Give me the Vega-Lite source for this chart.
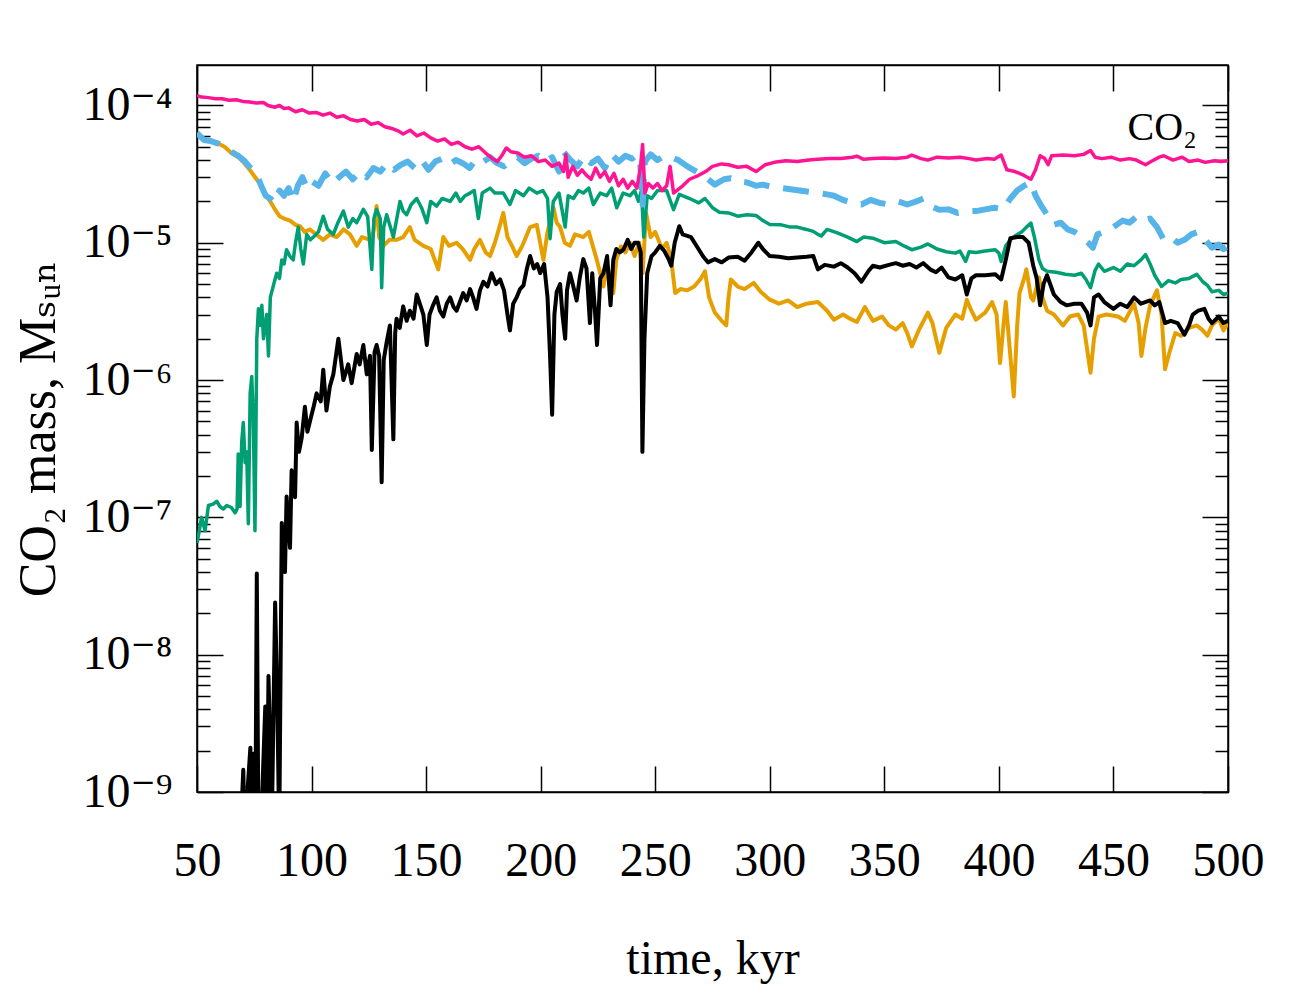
{
  "$schema": "https://vega.github.io/schema/vega-lite/v6.json",
  "autosize": "none",
  "width": 1031,
  "height": 727,
  "padding": {"left": 197, "top": 65, "right": 72, "bottom": 208},
  "config": {
    "view": {"stroke": "#000000", "strokeWidth": 1.5},
    "font": "Liberation Serif",
    "axis": {
      "grid": false,
      "domainColor": "#000000",
      "domainWidth": 1.5,
      "tickColor": "#000000",
      "tickWidth": 1.5,
      "labelColor": "#000000",
      "titleColor": "#000000",
      "labelFont": "Liberation Serif, DejaVu Serif",
      "titleFont": "Liberation Serif, DejaVu Serif",
      "labelFontSize": 48,
      "titleFontSize": 48,
      "titleFontWeight": "normal",
      "labelFlush": false,
      "labelOverlap": false
    }
  },
  "datasets": {
    "orange": [
      {"time": 50, "mass": 6.3e-5}, {"time": 53, "mass": 5.7e-5}, {"time": 56, "mass": 5.5e-5}, {"time": 59, "mass": 5.3e-5},
      {"time": 62, "mass": 5.0e-5}, {"time": 65, "mass": 4.5e-5}, {"time": 68, "mass": 4.2e-5}, {"time": 70, "mass": 3.9e-5},
      {"time": 73, "mass": 3.4e-5}, {"time": 76, "mass": 2.9e-5}, {"time": 78, "mass": 2.6e-5}, {"time": 80, "mass": 2.2e-5},
      {"time": 82, "mass": 2.0e-5}, {"time": 84, "mass": 1.75e-5}, {"time": 86, "mass": 1.56e-5}, {"time": 88, "mass": 1.5e-5},
      {"time": 90.6, "mass": 1.45e-5}, {"time": 93, "mass": 1.35e-5}, {"time": 95, "mass": 1.32e-5}, {"time": 97, "mass": 1.2e-5},
      {"time": 99.3, "mass": 1.25e-5}, {"time": 102, "mass": 1.15e-5}, {"time": 105.1, "mass": 1.05e-5}, {"time": 108, "mass": 1.15e-5},
      {"time": 111, "mass": 1.1e-5}, {"time": 114, "mass": 1.25e-5}, {"time": 116.8, "mass": 1.15e-5}, {"time": 119.7, "mass": 9.5e-6},
      {"time": 122, "mass": 1.1e-5}, {"time": 125.6, "mass": 1.05e-5}, {"time": 127, "mass": 1.2e-5}, {"time": 128.4, "mass": 1.85e-5},
      {"time": 129.5, "mass": 1.1e-5}, {"time": 131.3, "mass": 9.5e-6}, {"time": 134, "mass": 1.05e-5}, {"time": 137.1, "mass": 1.05e-5},
      {"time": 140, "mass": 1.1e-5}, {"time": 142.9, "mass": 1.3e-5}, {"time": 145, "mass": 1.05e-5}, {"time": 148.8, "mass": 9.5e-6},
      {"time": 152, "mass": 9.0e-6}, {"time": 155.3, "mass": 6.4e-6}, {"time": 157.5, "mass": 1.1e-5}, {"time": 160, "mass": 9.5e-6},
      {"time": 163.3, "mass": 1.0e-5}, {"time": 166, "mass": 9.0e-6}, {"time": 169.2, "mass": 7.5e-6}, {"time": 171, "mass": 9.0e-6},
      {"time": 173.5, "mass": 1.05e-5}, {"time": 176, "mass": 8.5e-6}, {"time": 177.9, "mass": 8.0e-6}, {"time": 180, "mass": 1.0e-5},
      {"time": 182, "mass": 1.3e-5}, {"time": 183.7, "mass": 1.65e-5}, {"time": 185.5, "mass": 1.1e-5}, {"time": 187.5, "mass": 9.5e-6},
      {"time": 189.5, "mass": 8.0e-6}, {"time": 192, "mass": 9.5e-6}, {"time": 195.4, "mass": 1.3e-5}, {"time": 198.3, "mass": 1.35e-5},
      {"time": 201.2, "mass": 7.5e-6}, {"time": 203, "mass": 1.2e-5}, {"time": 205.6, "mass": 1.8e-5}, {"time": 207, "mass": 1.4e-5},
      {"time": 208.5, "mass": 1.3e-5}, {"time": 210.5, "mass": 1.0e-5}, {"time": 212.8, "mass": 9.5e-6}, {"time": 215, "mass": 1.15e-5},
      {"time": 218.6, "mass": 1.1e-5}, {"time": 221, "mass": 1.2e-5}, {"time": 224.5, "mass": 7.5e-6}, {"time": 226, "mass": 6.0e-6},
      {"time": 227.4, "mass": 4.8e-6}, {"time": 229, "mass": 7.0e-6}, {"time": 231.7, "mass": 4.3e-6}, {"time": 233, "mass": 7.5e-6},
      {"time": 235, "mass": 9.4e-6}, {"time": 237, "mass": 8.5e-6}, {"time": 239, "mass": 1.0e-5}, {"time": 241, "mass": 8.0e-6},
      {"time": 243, "mass": 1.0e-5}, {"time": 244.5, "mass": 6.0e-6}, {"time": 246, "mass": 1.65e-5}, {"time": 248, "mass": 1.1e-5},
      {"time": 250, "mass": 1.2e-5}, {"time": 253, "mass": 9.0e-6}, {"time": 255, "mass": 1.0e-5}, {"time": 257, "mass": 7.5e-6},
      {"time": 258.7, "mass": 4.3e-6}, {"time": 261, "mass": 4.6e-6}, {"time": 264, "mass": 4.5e-6}, {"time": 267, "mass": 4.8e-6},
      {"time": 270, "mass": 5.5e-6}, {"time": 271.7, "mass": 6.2e-6}, {"time": 273.5, "mass": 4.0e-6}, {"time": 276, "mass": 3.1e-6},
      {"time": 279, "mass": 2.7e-6}, {"time": 281, "mass": 2.5e-6}, {"time": 282, "mass": 4.0e-6}, {"time": 283, "mass": 5.4e-6},
      {"time": 286, "mass": 4.8e-6}, {"time": 289, "mass": 4.6e-6}, {"time": 293, "mass": 5.1e-6}, {"time": 296, "mass": 4.4e-6},
      {"time": 300, "mass": 3.85e-6}, {"time": 304, "mass": 3.6e-6}, {"time": 308, "mass": 3.8e-6}, {"time": 312, "mass": 3.4e-6},
      {"time": 316, "mass": 3.6e-6}, {"time": 321, "mass": 3.7e-6}, {"time": 325, "mass": 3.2e-6}, {"time": 328, "mass": 2.75e-6},
      {"time": 332, "mass": 3.0e-6}, {"time": 335, "mass": 2.8e-6}, {"time": 338, "mass": 2.65e-6}, {"time": 341.5, "mass": 3.4e-6},
      {"time": 345, "mass": 2.7e-6}, {"time": 349, "mass": 2.9e-6}, {"time": 352, "mass": 2.5e-6}, {"time": 355, "mass": 2.33e-6},
      {"time": 358, "mass": 2.6e-6}, {"time": 360, "mass": 2.2e-6}, {"time": 362, "mass": 1.76e-6}, {"time": 365, "mass": 2.3e-6},
      {"time": 369, "mass": 3.1e-6}, {"time": 371, "mass": 2.6e-6}, {"time": 374, "mass": 1.58e-6}, {"time": 377, "mass": 2.4e-6},
      {"time": 381, "mass": 3.0e-6}, {"time": 384, "mass": 2.8e-6}, {"time": 386, "mass": 3.85e-6}, {"time": 388, "mass": 3.2e-6},
      {"time": 390, "mass": 2.75e-6}, {"time": 394, "mass": 3.1e-6}, {"time": 397, "mass": 3.7e-6}, {"time": 399, "mass": 3.0e-6},
      {"time": 400.5, "mass": 1.33e-6}, {"time": 402, "mass": 2.5e-6}, {"time": 403, "mass": 3.7e-6}, {"time": 405, "mass": 1.5e-6},
      {"time": 406.5, "mass": 7.6e-7}, {"time": 408, "mass": 2.5e-6}, {"time": 409, "mass": 4.3e-6}, {"time": 411, "mass": 5.5e-6},
      {"time": 412, "mass": 6.4e-6}, {"time": 414, "mass": 4.0e-6}, {"time": 415, "mass": 3.8e-6}, {"time": 417.5, "mass": 5.6e-6},
      {"time": 419, "mass": 4.0e-6}, {"time": 421, "mass": 3.2e-6}, {"time": 424, "mass": 3.0e-6}, {"time": 428, "mass": 2.5e-6},
      {"time": 431, "mass": 2.9e-6}, {"time": 434.6, "mass": 3.0e-6}, {"time": 437, "mass": 2.5e-6}, {"time": 440, "mass": 1.13e-6},
      {"time": 441.5, "mass": 2.0e-6}, {"time": 443.5, "mass": 2.9e-6}, {"time": 447, "mass": 3.0e-6}, {"time": 452, "mass": 2.9e-6},
      {"time": 455, "mass": 2.7e-6}, {"time": 459, "mass": 3.6e-6}, {"time": 461, "mass": 2.6e-6}, {"time": 462.2, "mass": 1.5e-6},
      {"time": 464, "mass": 2.4e-6}, {"time": 466, "mass": 3.5e-6}, {"time": 469, "mass": 4.5e-6}, {"time": 471, "mass": 3.0e-6},
      {"time": 472.5, "mass": 1.2e-6}, {"time": 474.5, "mass": 1.6e-6}, {"time": 477, "mass": 2.2e-6}, {"time": 479.5, "mass": 2.1e-6},
      {"time": 483, "mass": 2.4e-6}, {"time": 486.4, "mass": 2.5e-6}, {"time": 489, "mass": 2.3e-6}, {"time": 491, "mass": 2.1e-6},
      {"time": 493, "mass": 2.5e-6}, {"time": 496, "mass": 2.8e-6}, {"time": 498, "mass": 2.3e-6}, {"time": 500, "mass": 2.6e-6}
    ],
    "green": [
      {"time": 50, "mass": 6.5e-8}, {"time": 51, "mass": 8e-8}, {"time": 52, "mass": 1.0e-7}, {"time": 53.5, "mass": 8e-8},
      {"time": 55, "mass": 1.22e-7}, {"time": 57, "mass": 1.25e-7}, {"time": 58.6, "mass": 1.31e-7}, {"time": 60, "mass": 1.2e-7},
      {"time": 61.5, "mass": 1.15e-7}, {"time": 63, "mass": 1.22e-7}, {"time": 65, "mass": 1.18e-7}, {"time": 66.6, "mass": 1.08e-7},
      {"time": 67.5, "mass": 1.15e-7}, {"time": 68, "mass": 2.9e-7}, {"time": 68.8, "mass": 1.2e-7}, {"time": 69.5, "mass": 3.5e-7},
      {"time": 70.2, "mass": 4.9e-7}, {"time": 71, "mass": 2.5e-7}, {"time": 71.7, "mass": 3.0e-7}, {"time": 72.4, "mass": 9e-8},
      {"time": 73.2, "mass": 8e-7}, {"time": 73.9, "mass": 1.06e-6}, {"time": 74.6, "mass": 5e-7}, {"time": 75.3, "mass": 8e-8},
      {"time": 76.1, "mass": 2.0e-6}, {"time": 76.8, "mass": 3.3e-6}, {"time": 77.5, "mass": 2.5e-6}, {"time": 78.3, "mass": 3.5e-6},
      {"time": 79, "mass": 2.0e-6}, {"time": 80.4, "mass": 3.0e-6}, {"time": 81.2, "mass": 1.5e-6}, {"time": 82, "mass": 4.0e-6},
      {"time": 83.5, "mass": 5.0e-6}, {"time": 84.8, "mass": 6.0e-6}, {"time": 86, "mass": 5.5e-6}, {"time": 87, "mass": 7.5e-6},
      {"time": 88, "mass": 7.0e-6}, {"time": 89.1, "mass": 8.9e-6}, {"time": 90.5, "mass": 8.0e-6}, {"time": 92, "mass": 7.5e-6},
      {"time": 93, "mass": 1.0e-5}, {"time": 94.2, "mass": 1.3e-5}, {"time": 95.3, "mass": 9.0e-6}, {"time": 96.4, "mass": 7.0e-6},
      {"time": 97.9, "mass": 1.15e-5}, {"time": 99.5, "mass": 1.05e-5}, {"time": 100.8, "mass": 1.1e-5}, {"time": 103, "mass": 1.2e-5},
      {"time": 105.1, "mass": 1.56e-5}, {"time": 107, "mass": 1.25e-5}, {"time": 109.5, "mass": 1.15e-5}, {"time": 111.5, "mass": 1.4e-5},
      {"time": 113.9, "mass": 1.7e-5}, {"time": 116, "mass": 1.3e-5}, {"time": 118, "mass": 1.5e-5}, {"time": 119.7, "mass": 1.4e-5},
      {"time": 122.6, "mass": 1.75e-5}, {"time": 124.5, "mass": 1.55e-5}, {"time": 126.3, "mass": 6.4e-6}, {"time": 127.2, "mass": 1.5e-5},
      {"time": 128.4, "mass": 1.75e-5}, {"time": 130, "mass": 1.5e-5}, {"time": 130.6, "mass": 4.7e-6}, {"time": 131.5, "mass": 1.3e-5},
      {"time": 132.8, "mass": 1.6e-5}, {"time": 135.7, "mass": 1.1e-5}, {"time": 138.6, "mass": 2.0e-5}, {"time": 140, "mass": 1.7e-5},
      {"time": 141.5, "mass": 1.6e-5}, {"time": 143.5, "mass": 1.9e-5}, {"time": 145.9, "mass": 2.1e-5}, {"time": 148, "mass": 1.8e-5},
      {"time": 150.3, "mass": 1.4e-5}, {"time": 152, "mass": 2.0e-5}, {"time": 154.6, "mass": 1.85e-5}, {"time": 157, "mass": 2.1e-5},
      {"time": 160.5, "mass": 2.0e-5}, {"time": 163, "mass": 2.3e-5}, {"time": 164.9, "mass": 2.0e-5}, {"time": 167, "mass": 2.2e-5},
      {"time": 169.2, "mass": 2.3e-5}, {"time": 171, "mass": 2.4e-5}, {"time": 172.8, "mass": 1.5e-5}, {"time": 174.5, "mass": 2.3e-5},
      {"time": 177.9, "mass": 2.5e-5}, {"time": 180, "mass": 2.3e-5}, {"time": 183.7, "mass": 2.3e-5}, {"time": 186.6, "mass": 1.9e-5},
      {"time": 189, "mass": 2.4e-5}, {"time": 192.5, "mass": 2.2e-5}, {"time": 195, "mass": 2.5e-5}, {"time": 198.3, "mass": 2.3e-5},
      {"time": 201, "mass": 2.4e-5}, {"time": 203, "mass": 2.1e-5}, {"time": 204.1, "mass": 1.07e-5}, {"time": 205.5, "mass": 2.0e-5},
      {"time": 208, "mass": 2.3e-5}, {"time": 210.7, "mass": 1.3e-5}, {"time": 212, "mass": 2.2e-5}, {"time": 214.3, "mass": 2.1e-5},
      {"time": 216.5, "mass": 2.4e-5}, {"time": 218.6, "mass": 2.3e-5}, {"time": 221, "mass": 2.5e-5}, {"time": 223, "mass": 1.9e-5},
      {"time": 226, "mass": 2.3e-5}, {"time": 228.8, "mass": 2.2e-5}, {"time": 231, "mass": 2.5e-5}, {"time": 233.2, "mass": 1.8e-5},
      {"time": 236, "mass": 2.3e-5}, {"time": 239, "mass": 2.2e-5}, {"time": 241, "mass": 2.4e-5}, {"time": 242.7, "mass": 2.0e-5},
      {"time": 244, "mass": 2.4e-5}, {"time": 245, "mass": 1.1e-5}, {"time": 246.5, "mass": 2.2e-5}, {"time": 248.4, "mass": 2.1e-5},
      {"time": 251, "mass": 2.4e-5}, {"time": 255, "mass": 2.4e-5}, {"time": 258, "mass": 1.74e-5}, {"time": 260.5, "mass": 2.25e-5},
      {"time": 265, "mass": 2.1e-5}, {"time": 269, "mass": 1.95e-5}, {"time": 271.7, "mass": 2.1e-5}, {"time": 275, "mass": 1.8e-5},
      {"time": 278, "mass": 1.67e-5}, {"time": 282, "mass": 1.65e-5}, {"time": 286, "mass": 1.56e-5}, {"time": 290, "mass": 1.6e-5},
      {"time": 294, "mass": 1.58e-5}, {"time": 297, "mass": 1.45e-5}, {"time": 300, "mass": 1.36e-5}, {"time": 305, "mass": 1.35e-5},
      {"time": 309, "mass": 1.3e-5}, {"time": 312, "mass": 1.3e-5}, {"time": 316, "mass": 1.25e-5}, {"time": 319, "mass": 1.21e-5},
      {"time": 321, "mass": 1.15e-5}, {"time": 322.5, "mass": 1.12e-5}, {"time": 325, "mass": 1.25e-5}, {"time": 329.5, "mass": 1.18e-5},
      {"time": 334, "mass": 1.1e-5}, {"time": 338, "mass": 1.02e-5}, {"time": 341, "mass": 1.1e-5}, {"time": 345, "mass": 1.08e-5},
      {"time": 350, "mass": 1.0e-5}, {"time": 355, "mass": 1.02e-5}, {"time": 359, "mass": 9.4e-6}, {"time": 362, "mass": 8.9e-6},
      {"time": 366, "mass": 9.3e-6}, {"time": 369, "mass": 9.8e-6}, {"time": 373, "mass": 9.0e-6}, {"time": 377, "mass": 8.6e-6},
      {"time": 381, "mass": 8.4e-6}, {"time": 383, "mass": 8.7e-6}, {"time": 385.5, "mass": 7.3e-6}, {"time": 387, "mass": 8.6e-6},
      {"time": 390, "mass": 8.5e-6}, {"time": 394, "mass": 8.7e-6}, {"time": 398.4, "mass": 8.9e-6}, {"time": 400, "mass": 8.4e-6},
      {"time": 401, "mass": 7.3e-6}, {"time": 403, "mass": 9.5e-6}, {"time": 405, "mass": 1.05e-5}, {"time": 407, "mass": 1.12e-5},
      {"time": 410, "mass": 1.2e-5}, {"time": 412, "mass": 1.3e-5}, {"time": 414, "mass": 1.39e-5}, {"time": 415.5, "mass": 1.1e-5},
      {"time": 417.5, "mass": 7.5e-6}, {"time": 419, "mass": 6.5e-6}, {"time": 421, "mass": 6.2e-6}, {"time": 425, "mass": 6.1e-6},
      {"time": 429, "mass": 5.9e-6}, {"time": 433, "mass": 5.8e-6}, {"time": 436, "mass": 6.0e-6}, {"time": 438, "mass": 5.4e-6},
      {"time": 440, "mass": 4.7e-6}, {"time": 442, "mass": 6.3e-6}, {"time": 443.5, "mass": 7.0e-6}, {"time": 446, "mass": 6.2e-6},
      {"time": 450, "mass": 6.6e-6}, {"time": 453, "mass": 6.2e-6}, {"time": 456, "mass": 7.0e-6}, {"time": 459, "mass": 6.8e-6},
      {"time": 462, "mass": 7.5e-6}, {"time": 464, "mass": 8.2e-6}, {"time": 466, "mass": 7.0e-6}, {"time": 468, "mass": 5.8e-6},
      {"time": 471, "mass": 4.8e-6}, {"time": 474, "mass": 5.3e-6}, {"time": 477, "mass": 5.1e-6}, {"time": 479.5, "mass": 5.4e-6},
      {"time": 483, "mass": 5.5e-6}, {"time": 486.4, "mass": 5.9e-6}, {"time": 489, "mass": 5.2e-6}, {"time": 491, "mass": 4.9e-6},
      {"time": 493, "mass": 4.4e-6}, {"time": 496, "mass": 4.5e-6}, {"time": 498, "mass": 4.2e-6}, {"time": 500, "mass": 4.3e-6}
    ],
    "black": [
      {"time": 69, "mass": 5e-10}, {"time": 70.2, "mass": 1.45e-9}, {"time": 70.8, "mass": 5e-10}, {"time": 73.3, "mass": 2.1e-9},
      {"time": 73.9, "mass": 5e-10}, {"time": 74.6, "mass": 1.9e-9}, {"time": 75.5, "mass": 6e-10}, {"time": 76.1, "mass": 3.9e-8},
      {"time": 76.8, "mass": 5e-10}, {"time": 78.5, "mass": 1e-9}, {"time": 79.8, "mass": 4.2e-9}, {"time": 80.5, "mass": 5e-10},
      {"time": 81.2, "mass": 7e-9}, {"time": 82, "mass": 2e-9}, {"time": 82.6, "mass": 5e-10}, {"time": 84.1, "mass": 2.4e-8},
      {"time": 85, "mass": 5e-9}, {"time": 85.9, "mass": 5e-10}, {"time": 87, "mass": 9.1e-8}, {"time": 88.4, "mass": 4e-8},
      {"time": 89.1, "mass": 1.42e-7}, {"time": 90.6, "mass": 6e-8}, {"time": 91.3, "mass": 2.2e-7}, {"time": 92.8, "mass": 1.4e-7},
      {"time": 93.5, "mass": 4.9e-7}, {"time": 94.5, "mass": 3.0e-7}, {"time": 95.7, "mass": 3.8e-7}, {"time": 97.1, "mass": 6.4e-7},
      {"time": 98.2, "mass": 4.2e-7}, {"time": 99.3, "mass": 5.0e-7}, {"time": 101, "mass": 6.5e-7}, {"time": 102.2, "mass": 8.0e-7},
      {"time": 104, "mass": 7.0e-7}, {"time": 105.1, "mass": 1.19e-6}, {"time": 106.5, "mass": 6.0e-7}, {"time": 108, "mass": 9.0e-7},
      {"time": 109.5, "mass": 1.1e-6}, {"time": 111.7, "mass": 2.0e-6}, {"time": 113.9, "mass": 1.0e-6}, {"time": 116, "mass": 1.3e-6},
      {"time": 117.5, "mass": 9.5e-7}, {"time": 119.7, "mass": 1.55e-6}, {"time": 121, "mass": 1.3e-6}, {"time": 122.6, "mass": 1.8e-6},
      {"time": 124.1, "mass": 1.1e-6}, {"time": 125.5, "mass": 1.5e-6}, {"time": 126.3, "mass": 3.1e-7}, {"time": 127.5, "mass": 1.6e-6},
      {"time": 128.4, "mass": 1.8e-6}, {"time": 129.5, "mass": 1.5e-6}, {"time": 130.6, "mass": 1.8e-7}, {"time": 131.5, "mass": 1.4e-6},
      {"time": 132.8, "mass": 1.9e-6}, {"time": 134.2, "mass": 2.5e-6}, {"time": 135.7, "mass": 3.7e-7}, {"time": 136.5, "mass": 2.2e-6},
      {"time": 137.1, "mass": 2.8e-6}, {"time": 138.5, "mass": 2.4e-6}, {"time": 140, "mass": 3.44e-6}, {"time": 141.5, "mass": 2.7e-6},
      {"time": 142.9, "mass": 3.2e-6}, {"time": 144.5, "mass": 2.8e-6}, {"time": 145.9, "mass": 4.2e-6}, {"time": 147.5, "mass": 3.5e-6},
      {"time": 148.8, "mass": 3.0e-6}, {"time": 150.3, "mass": 1.8e-6}, {"time": 151.5, "mass": 3.0e-6}, {"time": 153, "mass": 3.5e-6},
      {"time": 154.6, "mass": 4.0e-6}, {"time": 156, "mass": 3.2e-6}, {"time": 157.5, "mass": 2.9e-6}, {"time": 159, "mass": 3.6e-6},
      {"time": 160.5, "mass": 4.0e-6}, {"time": 162, "mass": 3.4e-6}, {"time": 163.3, "mass": 3.2e-6}, {"time": 166.2, "mass": 4.3e-6},
      {"time": 167.7, "mass": 3.8e-6}, {"time": 169.2, "mass": 4.6e-6}, {"time": 170.5, "mass": 4.0e-6}, {"time": 172, "mass": 3.3e-6},
      {"time": 173.5, "mass": 4.5e-6}, {"time": 175, "mass": 5.2e-6}, {"time": 176.8, "mass": 4.8e-6}, {"time": 178.6, "mass": 6.0e-6},
      {"time": 180.5, "mass": 5.0e-6}, {"time": 182.3, "mass": 5.4e-6}, {"time": 184, "mass": 4.5e-6}, {"time": 185.5, "mass": 3.0e-6},
      {"time": 186.6, "mass": 2.3e-6}, {"time": 188, "mass": 3.6e-6}, {"time": 189.5, "mass": 4.0e-6}, {"time": 191, "mass": 4.6e-6},
      {"time": 192.5, "mass": 4.9e-6}, {"time": 194, "mass": 6.5e-6}, {"time": 195.4, "mass": 8.0e-6}, {"time": 197, "mass": 6.5e-6},
      {"time": 198.5, "mass": 7.0e-6}, {"time": 199.8, "mass": 6.0e-6}, {"time": 201.5, "mass": 7.0e-6}, {"time": 203, "mass": 4.0e-6},
      {"time": 204.1, "mass": 1.5e-6}, {"time": 205, "mass": 5.6e-7}, {"time": 206, "mass": 3.0e-6}, {"time": 207, "mass": 4.4e-6},
      {"time": 208.5, "mass": 5.0e-6}, {"time": 209.5, "mass": 3.0e-6}, {"time": 210.7, "mass": 2.0e-6}, {"time": 211.5, "mass": 4.5e-6},
      {"time": 212.8, "mass": 6.0e-6}, {"time": 214, "mass": 5.0e-6}, {"time": 215.7, "mass": 3.8e-6}, {"time": 217, "mass": 5.5e-6},
      {"time": 218.6, "mass": 7.6e-6}, {"time": 220, "mass": 6.5e-6}, {"time": 221.5, "mass": 2.6e-6}, {"time": 222.5, "mass": 6.0e-6},
      {"time": 223.7, "mass": 3.2e-6}, {"time": 224.6, "mass": 1.8e-6}, {"time": 226, "mass": 5.5e-6}, {"time": 227.4, "mass": 6.0e-6},
      {"time": 229, "mass": 8.0e-6}, {"time": 230.5, "mass": 3.5e-6}, {"time": 231.7, "mass": 7.5e-6}, {"time": 233, "mass": 9.0e-6},
      {"time": 234.5, "mass": 8.5e-6}, {"time": 236.1, "mass": 8.9e-6}, {"time": 238, "mass": 1.05e-5}, {"time": 239.5, "mass": 9.0e-6},
      {"time": 241, "mass": 1.0e-5}, {"time": 242.5, "mass": 1.0e-5}, {"time": 243.7, "mass": 8.5e-6}, {"time": 244.4, "mass": 3.0e-7},
      {"time": 245.3, "mass": 2.0e-6}, {"time": 246.5, "mass": 6.0e-6}, {"time": 248.4, "mass": 8.0e-6}, {"time": 250, "mass": 8.5e-6},
      {"time": 252, "mass": 9.5e-6}, {"time": 254, "mass": 8.7e-6}, {"time": 256, "mass": 7.5e-6}, {"time": 257, "mass": 6.8e-6},
      {"time": 258.5, "mass": 1.0e-5}, {"time": 260.5, "mass": 1.32e-5}, {"time": 262, "mass": 1.15e-5}, {"time": 265.6, "mass": 1.1e-5},
      {"time": 268, "mass": 9.5e-6}, {"time": 271, "mass": 7.9e-6}, {"time": 273, "mass": 7.2e-6}, {"time": 276, "mass": 7.6e-6},
      {"time": 279, "mass": 7.2e-6}, {"time": 282, "mass": 7.8e-6}, {"time": 286, "mass": 7.9e-6}, {"time": 289, "mass": 7.4e-6},
      {"time": 292, "mass": 8.5e-6}, {"time": 295, "mass": 1.0e-5}, {"time": 297, "mass": 9.0e-6}, {"time": 300, "mass": 8.0e-6},
      {"time": 304, "mass": 7.9e-6}, {"time": 308, "mass": 7.7e-6}, {"time": 312, "mass": 7.8e-6}, {"time": 316, "mass": 7.9e-6},
      {"time": 319, "mass": 8.0e-6}, {"time": 321, "mass": 6.4e-6}, {"time": 324, "mass": 6.9e-6}, {"time": 328, "mass": 6.7e-6},
      {"time": 331, "mass": 7.1e-6}, {"time": 334, "mass": 6.6e-6}, {"time": 337, "mass": 6.0e-6}, {"time": 340, "mass": 5.2e-6},
      {"time": 343, "mass": 6.2e-6}, {"time": 345, "mass": 6.8e-6}, {"time": 348, "mass": 6.6e-6}, {"time": 352, "mass": 6.9e-6},
      {"time": 355, "mass": 7.1e-6}, {"time": 358, "mass": 6.8e-6}, {"time": 361, "mass": 7.0e-6}, {"time": 364, "mass": 6.6e-6},
      {"time": 367, "mass": 7.1e-6}, {"time": 370, "mass": 6.4e-6}, {"time": 372.5, "mass": 6.1e-6}, {"time": 375, "mass": 6.6e-6},
      {"time": 378, "mass": 5.6e-6}, {"time": 381, "mass": 5.4e-6}, {"time": 384, "mass": 5.8e-6}, {"time": 386, "mass": 4.2e-6},
      {"time": 388, "mass": 5.5e-6}, {"time": 390, "mass": 5.8e-6}, {"time": 394, "mass": 5.8e-6}, {"time": 398.4, "mass": 5.9e-6},
      {"time": 401, "mass": 5.4e-6}, {"time": 403, "mass": 7.5e-6}, {"time": 405, "mass": 1.08e-5}, {"time": 408, "mass": 1.1e-5},
      {"time": 410.5, "mass": 1.1e-5}, {"time": 413, "mass": 1.0e-5}, {"time": 415, "mass": 6.8e-6}, {"time": 416.5, "mass": 5.5e-6},
      {"time": 418, "mass": 3.5e-6}, {"time": 419.5, "mass": 5.0e-6}, {"time": 421, "mass": 5.8e-6}, {"time": 424, "mass": 4.2e-6},
      {"time": 427, "mass": 3.7e-6}, {"time": 429.5, "mass": 3.5e-6}, {"time": 433, "mass": 3.6e-6}, {"time": 436, "mass": 3.6e-6},
      {"time": 438.5, "mass": 3.1e-6}, {"time": 440, "mass": 2.5e-6}, {"time": 441.5, "mass": 4.0e-6}, {"time": 443.5, "mass": 4.2e-6},
      {"time": 446, "mass": 3.7e-6}, {"time": 450, "mass": 3.3e-6}, {"time": 453, "mass": 3.6e-6}, {"time": 456, "mass": 3.4e-6},
      {"time": 459, "mass": 4.0e-6}, {"time": 462, "mass": 3.6e-6}, {"time": 466, "mass": 3.8e-6}, {"time": 468, "mass": 3.5e-6},
      {"time": 470, "mass": 3.7e-6}, {"time": 472.5, "mass": 2.6e-6}, {"time": 475, "mass": 2.7e-6}, {"time": 478, "mass": 2.6e-6},
      {"time": 481, "mass": 2.14e-6}, {"time": 483, "mass": 2.5e-6}, {"time": 484.6, "mass": 3.0e-6}, {"time": 487, "mass": 3.2e-6},
      {"time": 489.7, "mass": 3.3e-6}, {"time": 491.5, "mass": 2.8e-6}, {"time": 493, "mass": 2.6e-6}, {"time": 496, "mass": 2.9e-6},
      {"time": 498, "mass": 2.6e-6}, {"time": 500, "mass": 2.7e-6}
    ],
    "blue": [
      {"time": 50, "mass": 6.3e-5}, {"time": 53, "mass": 5.6e-5}, {"time": 56, "mass": 5.5e-5}, {"time": 59, "mass": 5.3e-5},
      {"time": 62, "mass": 5.0e-5}, {"time": 65, "mass": 4.6e-5}, {"time": 68, "mass": 4.3e-5}, {"time": 71, "mass": 3.9e-5},
      {"time": 74, "mass": 3.4e-5}, {"time": 76, "mass": 3.2e-5}, {"time": 78, "mass": 2.6e-5}, {"time": 80, "mass": 2.2e-5},
      {"time": 82, "mass": 2.1e-5}, {"time": 84, "mass": 1.95e-5}, {"time": 86, "mass": 2.4e-5}, {"time": 88, "mass": 2.2e-5},
      {"time": 90, "mass": 2.5e-5}, {"time": 92, "mass": 2.0e-5}, {"time": 94, "mass": 2.6e-5}, {"time": 96, "mass": 3.0e-5},
      {"time": 98, "mass": 2.5e-5}, {"time": 100, "mass": 2.8e-5}, {"time": 103, "mass": 2.6e-5}, {"time": 106, "mass": 3.2e-5},
      {"time": 109, "mass": 2.7e-5}, {"time": 112, "mass": 3.0e-5}, {"time": 115, "mass": 3.3e-5}, {"time": 118, "mass": 2.9e-5},
      {"time": 121, "mass": 3.3e-5}, {"time": 124, "mass": 3.0e-5}, {"time": 127, "mass": 3.5e-5}, {"time": 130, "mass": 3.3e-5},
      {"time": 133, "mass": 3.8e-5}, {"time": 136, "mass": 3.4e-5}, {"time": 139, "mass": 3.7e-5}, {"time": 142, "mass": 3.9e-5},
      {"time": 145, "mass": 3.5e-5}, {"time": 148, "mass": 4.0e-5}, {"time": 151, "mass": 3.4e-5}, {"time": 154, "mass": 3.9e-5},
      {"time": 157, "mass": 4.1e-5}, {"time": 160, "mass": 3.7e-5}, {"time": 163, "mass": 4.0e-5}, {"time": 166, "mass": 3.8e-5},
      {"time": 169, "mass": 3.5e-5}, {"time": 172, "mass": 4.1e-5}, {"time": 175, "mass": 3.9e-5}, {"time": 178, "mass": 4.2e-5},
      {"time": 181, "mass": 3.8e-5}, {"time": 184, "mass": 3.6e-5}, {"time": 187, "mass": 4.0e-5}, {"time": 190, "mass": 4.2e-5},
      {"time": 193, "mass": 3.8e-5}, {"time": 196, "mass": 4.1e-5}, {"time": 199, "mass": 4.3e-5}, {"time": 202, "mass": 3.9e-5},
      {"time": 205, "mass": 4.2e-5}, {"time": 208, "mass": 3.3e-5}, {"time": 210, "mass": 4.6e-5}, {"time": 213, "mass": 4.0e-5},
      {"time": 216, "mass": 3.6e-5}, {"time": 219, "mass": 4.3e-5}, {"time": 222, "mass": 3.8e-5}, {"time": 225, "mass": 4.1e-5},
      {"time": 228, "mass": 3.5e-5}, {"time": 231, "mass": 4.4e-5}, {"time": 234, "mass": 3.9e-5}, {"time": 237, "mass": 4.3e-5},
      {"time": 240, "mass": 4.1e-5}, {"time": 242, "mass": 4.4e-5}, {"time": 243.5, "mass": 3.7e-5}, {"time": 244.5, "mass": 1.9e-5},
      {"time": 245.5, "mass": 3.9e-5}, {"time": 248, "mass": 4.4e-5}, {"time": 251, "mass": 4.0e-5}, {"time": 254, "mass": 4.3e-5},
      {"time": 257, "mass": 4.2e-5}, {"time": 260, "mass": 4.0e-5}, {"time": 264, "mass": 3.6e-5}, {"time": 268, "mass": 3.3e-5},
      {"time": 272, "mass": 3.0e-5}, {"time": 276, "mass": 2.65e-5}, {"time": 280, "mass": 2.9e-5}, {"time": 283, "mass": 2.95e-5},
      {"time": 286, "mass": 2.8e-5}, {"time": 290, "mass": 2.75e-5}, {"time": 294, "mass": 2.6e-5}, {"time": 297, "mass": 2.65e-5},
      {"time": 301, "mass": 2.55e-5}, {"time": 305, "mass": 2.5e-5}, {"time": 309, "mass": 2.45e-5}, {"time": 313, "mass": 2.4e-5},
      {"time": 317, "mass": 2.35e-5}, {"time": 321, "mass": 2.3e-5}, {"time": 325, "mass": 2.25e-5}, {"time": 328, "mass": 2.2e-5},
      {"time": 332, "mass": 2.05e-5}, {"time": 336, "mass": 1.95e-5}, {"time": 340, "mass": 1.9e-5}, {"time": 344, "mass": 2.05e-5},
      {"time": 348, "mass": 1.95e-5}, {"time": 352, "mass": 1.9e-5}, {"time": 356, "mass": 2.0e-5}, {"time": 360, "mass": 1.9e-5},
      {"time": 364, "mass": 2.0e-5}, {"time": 367, "mass": 2.1e-5}, {"time": 370, "mass": 1.85e-5}, {"time": 374, "mass": 1.74e-5},
      {"time": 378, "mass": 1.75e-5}, {"time": 382, "mass": 1.65e-5}, {"time": 386, "mass": 1.7e-5}, {"time": 390, "mass": 1.7e-5},
      {"time": 394, "mass": 1.75e-5}, {"time": 398, "mass": 1.8e-5}, {"time": 402, "mass": 1.75e-5}, {"time": 405, "mass": 2.1e-5},
      {"time": 408, "mass": 2.4e-5}, {"time": 411, "mass": 2.6e-5}, {"time": 414, "mass": 2.75e-5}, {"time": 416, "mass": 2.2e-5},
      {"time": 419, "mass": 1.8e-5}, {"time": 421, "mass": 1.6e-5}, {"time": 424, "mass": 1.35e-5}, {"time": 427, "mass": 1.4e-5},
      {"time": 430, "mass": 1.25e-5}, {"time": 433, "mass": 1.2e-5}, {"time": 436, "mass": 1.1e-5}, {"time": 439, "mass": 1.0e-5},
      {"time": 441, "mass": 9.2e-6}, {"time": 443, "mass": 1.15e-5}, {"time": 446, "mass": 1.2e-5}, {"time": 450, "mass": 1.3e-5},
      {"time": 454, "mass": 1.45e-5}, {"time": 457, "mass": 1.4e-5}, {"time": 460, "mass": 1.55e-5}, {"time": 463, "mass": 1.45e-5},
      {"time": 466, "mass": 1.5e-5}, {"time": 469, "mass": 1.3e-5}, {"time": 472, "mass": 1.05e-5}, {"time": 475, "mass": 1.1e-5},
      {"time": 478, "mass": 1.0e-5}, {"time": 481, "mass": 1.05e-5}, {"time": 484, "mass": 1.15e-5}, {"time": 487, "mass": 1.2e-5},
      {"time": 490, "mass": 1.05e-5}, {"time": 493, "mass": 9.2e-6}, {"time": 496, "mass": 9.7e-6}, {"time": 498, "mass": 9.0e-6},
      {"time": 500, "mass": 9.5e-6}
    ],
    "pink": [
      {"time": 50, "mass": 1.18e-4}, {"time": 52, "mass": 1.15e-4}, {"time": 55, "mass": 1.14e-4}, {"time": 58, "mass": 1.12e-4},
      {"time": 61, "mass": 1.12e-4}, {"time": 64, "mass": 1.09e-4}, {"time": 67, "mass": 1.1e-4}, {"time": 70, "mass": 1.07e-4},
      {"time": 73, "mass": 1.06e-4}, {"time": 76, "mass": 1.04e-4}, {"time": 79, "mass": 1.05e-4}, {"time": 81, "mass": 1.0e-4},
      {"time": 84, "mass": 9.7e-5}, {"time": 86, "mass": 1.0e-4}, {"time": 88, "mass": 9.5e-5}, {"time": 90, "mass": 9.6e-5},
      {"time": 93, "mass": 9.0e-5}, {"time": 96, "mass": 9.3e-5}, {"time": 99, "mass": 8.8e-5}, {"time": 102, "mass": 8.9e-5},
      {"time": 105, "mass": 8.5e-5}, {"time": 108, "mass": 8.8e-5}, {"time": 111, "mass": 8.2e-5}, {"time": 114, "mass": 8.4e-5},
      {"time": 117, "mass": 7.9e-5}, {"time": 120, "mass": 7.7e-5}, {"time": 123, "mass": 7.9e-5}, {"time": 126, "mass": 7.3e-5},
      {"time": 129, "mass": 7.5e-5}, {"time": 132, "mass": 7.0e-5}, {"time": 135, "mass": 6.8e-5}, {"time": 138, "mass": 6.5e-5},
      {"time": 140, "mass": 6.2e-5}, {"time": 143, "mass": 6.6e-5}, {"time": 146, "mass": 6.0e-5}, {"time": 149, "mass": 6.3e-5},
      {"time": 152, "mass": 5.8e-5}, {"time": 155, "mass": 5.5e-5}, {"time": 158, "mass": 5.7e-5}, {"time": 161, "mass": 5.2e-5},
      {"time": 164, "mass": 5.4e-5}, {"time": 167, "mass": 5.0e-5}, {"time": 170, "mass": 4.8e-5}, {"time": 173, "mass": 5.0e-5},
      {"time": 176, "mass": 4.5e-5}, {"time": 179, "mass": 4.1e-5}, {"time": 181, "mass": 3.9e-5}, {"time": 183, "mass": 4.3e-5},
      {"time": 185, "mass": 4.9e-5}, {"time": 187, "mass": 4.6e-5}, {"time": 190, "mass": 4.5e-5}, {"time": 193, "mass": 4.2e-5},
      {"time": 196, "mass": 4.3e-5}, {"time": 199, "mass": 3.9e-5}, {"time": 202, "mass": 4.0e-5}, {"time": 205, "mass": 3.6e-5},
      {"time": 208, "mass": 3.8e-5}, {"time": 210, "mass": 3.3e-5}, {"time": 211, "mass": 4.4e-5}, {"time": 212, "mass": 3.0e-5},
      {"time": 214, "mass": 3.6e-5}, {"time": 216, "mass": 3.1e-5}, {"time": 218, "mass": 3.4e-5}, {"time": 220, "mass": 3.1e-5},
      {"time": 222, "mass": 2.9e-5}, {"time": 224, "mass": 3.5e-5}, {"time": 226, "mass": 3.0e-5}, {"time": 228, "mass": 3.3e-5},
      {"time": 230, "mass": 2.8e-5}, {"time": 232, "mass": 3.2e-5}, {"time": 234, "mass": 2.6e-5}, {"time": 236, "mass": 2.9e-5},
      {"time": 238, "mass": 2.5e-5}, {"time": 240, "mass": 2.8e-5}, {"time": 242, "mass": 2.5e-5}, {"time": 243.5, "mass": 3.5e-5},
      {"time": 244.5, "mass": 5.2e-5}, {"time": 245.5, "mass": 2.3e-5}, {"time": 247, "mass": 2.7e-5}, {"time": 249, "mass": 2.5e-5},
      {"time": 251, "mass": 2.7e-5}, {"time": 253, "mass": 2.4e-5}, {"time": 255, "mass": 2.6e-5}, {"time": 256.5, "mass": 3.6e-5},
      {"time": 258, "mass": 2.3e-5}, {"time": 262, "mass": 2.6e-5}, {"time": 265, "mass": 2.9e-5}, {"time": 269, "mass": 3.1e-5},
      {"time": 272, "mass": 3.3e-5}, {"time": 275, "mass": 3.6e-5}, {"time": 279, "mass": 3.75e-5}, {"time": 282, "mass": 3.7e-5},
      {"time": 286, "mass": 3.55e-5}, {"time": 290, "mass": 3.6e-5}, {"time": 294, "mass": 3.3e-5}, {"time": 298, "mass": 3.7e-5},
      {"time": 302, "mass": 3.85e-5}, {"time": 307, "mass": 3.95e-5}, {"time": 312, "mass": 3.9e-5}, {"time": 317, "mass": 4.0e-5},
      {"time": 321, "mass": 4.05e-5}, {"time": 326, "mass": 4.1e-5}, {"time": 331, "mass": 4.1e-5}, {"time": 336, "mass": 4.2e-5},
      {"time": 338, "mass": 4.27e-5}, {"time": 341, "mass": 4.05e-5}, {"time": 345, "mass": 4.1e-5}, {"time": 350, "mass": 4.15e-5},
      {"time": 355, "mass": 4.1e-5}, {"time": 360, "mass": 4.2e-5}, {"time": 362, "mass": 4.35e-5}, {"time": 366, "mass": 4.1e-5},
      {"time": 369, "mass": 4.0e-5}, {"time": 373, "mass": 4.2e-5}, {"time": 378, "mass": 4.15e-5}, {"time": 383, "mass": 4.2e-5},
      {"time": 387, "mass": 4.1e-5}, {"time": 390, "mass": 4.0e-5}, {"time": 395, "mass": 4.1e-5}, {"time": 398, "mass": 4.05e-5},
      {"time": 401, "mass": 4.35e-5}, {"time": 403.5, "mass": 3.4e-5}, {"time": 407, "mass": 3.3e-5}, {"time": 410, "mass": 3.15e-5},
      {"time": 414, "mass": 2.9e-5}, {"time": 416, "mass": 3.4e-5}, {"time": 418, "mass": 4.3e-5}, {"time": 420, "mass": 4.1e-5},
      {"time": 421.5, "mass": 3.7e-5}, {"time": 423, "mass": 4.3e-5}, {"time": 428, "mass": 4.35e-5}, {"time": 433, "mass": 4.3e-5},
      {"time": 437, "mass": 4.4e-5}, {"time": 440, "mass": 4.7e-5}, {"time": 442, "mass": 4.2e-5}, {"time": 445, "mass": 4.1e-5},
      {"time": 449, "mass": 4.2e-5}, {"time": 453, "mass": 4.0e-5}, {"time": 457, "mass": 4.1e-5}, {"time": 460, "mass": 4.0e-5},
      {"time": 464, "mass": 3.7e-5}, {"time": 467, "mass": 3.95e-5}, {"time": 470, "mass": 4.2e-5}, {"time": 472, "mass": 4.3e-5},
      {"time": 476, "mass": 4.0e-5}, {"time": 480, "mass": 4.2e-5}, {"time": 483, "mass": 3.9e-5}, {"time": 487, "mass": 4.0e-5},
      {"time": 490, "mass": 3.85e-5}, {"time": 494, "mass": 3.95e-5}, {"time": 497, "mass": 3.9e-5}, {"time": 500, "mass": 3.95e-5}
    ],
    "label": [
      {"time": 486.5, "mass": 5.6e-5, "text": "CO₂"}
    ]
  },
  "layer": [
    {
      "data": {"name": "orange"},
      "mark": {"type": "line", "color": "#e69f00", "strokeWidth": 4, "clip": true, "strokeJoin": "round"},
      "encoding": {
        "x": {
          "field": "time",
          "type": "quantitative",
          "scale": {"domain": [50, 500], "nice": false, "zero": false},
          "axis": {
            "orient": "bottom",
            "values": [50, 100, 150, 200, 250, 300, 350, 400, 450, 500],
            "tickSize": -26,
            "labelPadding": 71,
            "title": "time, kyr",
            "titlePadding": 50
          }
        },
        "y": {
          "field": "mass",
          "type": "quantitative",
          "scale": {"type": "log", "domain": [1e-9, 1.97e-4], "nice": false},
          "axis": {
            "orient": "left",
            "values": [1e-9, 2e-9, 3e-9, 4e-9, 5e-9, 6e-9, 7e-9, 8e-9, 9e-9, 1e-8, 2e-8, 3e-8, 4e-8, 5e-8, 6e-8, 7e-8, 8e-8, 9e-8, 1e-7, 2e-7, 3e-7, 4e-7, 5e-7, 6e-7, 7e-7, 8e-7, 9e-7, 1e-6, 2e-6, 3e-6, 4e-6, 5e-6, 6e-6, 7e-6, 8e-6, 9e-6, 1e-5, 2e-5, 3e-5, 4e-5, 5e-5, 6e-5, 7e-5, 8e-5, 9e-5, 1e-4],
            "tickSize": {"condition": {"test": "abs(log(datum.value)/LN10 - round(log(datum.value)/LN10)) < 0.01", "value": -26}, "value": -13},
            "labelExpr": "abs(log(datum.value)/LN10 - round(log(datum.value)/LN10)) < 0.01 ? '10' + ['⁻⁹','⁻⁸','⁻⁷','⁻⁶','⁻⁵','⁻⁴'][round(log(datum.value)/LN10) + 9] : ''",
            "labelPadding": 51,
            "title": "CO₂ mass, Mₛᵤₙ",
            "titleFontSize": 52,
            "titlePadding": 16
          }
        }
      }
    },
    {
      "data": {"name": "green"},
      "mark": {"type": "line", "color": "#009e73", "strokeWidth": 3.5, "clip": true, "strokeJoin": "round"},
      "encoding": {
        "x": {"field": "time", "type": "quantitative", "axis": null},
        "y": {"field": "mass", "type": "quantitative", "axis": null}
      }
    },
    {
      "data": {"name": "black"},
      "mark": {"type": "line", "color": "#000000", "strokeWidth": 4, "clip": true, "strokeJoin": "round"},
      "encoding": {
        "x": {"field": "time", "type": "quantitative", "axis": null},
        "y": {"field": "mass", "type": "quantitative", "axis": null}
      }
    },
    {
      "data": {"name": "blue"},
      "mark": {"type": "line", "color": "#56b4e9", "strokeWidth": 6, "strokeDash": [26, 14], "clip": true, "strokeJoin": "round"},
      "encoding": {
        "x": {"field": "time", "type": "quantitative", "axis": null},
        "y": {"field": "mass", "type": "quantitative", "axis": null}
      }
    },
    {
      "data": {"name": "pink"},
      "mark": {"type": "line", "color": "#ff1493", "strokeWidth": 3.5, "clip": true, "strokeJoin": "round"},
      "encoding": {
        "x": {"field": "time", "type": "quantitative", "axis": null},
        "y": {"field": "mass", "type": "quantitative", "axis": null}
      }
    },
    {
      "data": {"name": "label"},
      "mark": {"type": "text", "font": "Liberation Serif, DejaVu Serif", "fontSize": 40, "align": "right", "baseline": "alphabetic", "color": "#000000"},
      "encoding": {
        "x": {
          "field": "time",
          "type": "quantitative",
          "axis": {
            "orient": "top",
            "values": [50, 100, 150, 200, 250, 300, 350, 400, 450, 500],
            "tickSize": -26,
            "labels": false,
            "title": null
          }
        },
        "y": {
          "field": "mass",
          "type": "quantitative",
          "axis": {
            "orient": "right",
            "values": [1e-9, 2e-9, 3e-9, 4e-9, 5e-9, 6e-9, 7e-9, 8e-9, 9e-9, 1e-8, 2e-8, 3e-8, 4e-8, 5e-8, 6e-8, 7e-8, 8e-8, 9e-8, 1e-7, 2e-7, 3e-7, 4e-7, 5e-7, 6e-7, 7e-7, 8e-7, 9e-7, 1e-6, 2e-6, 3e-6, 4e-6, 5e-6, 6e-6, 7e-6, 8e-6, 9e-6, 1e-5, 2e-5, 3e-5, 4e-5, 5e-5, 6e-5, 7e-5, 8e-5, 9e-5, 1e-4],
            "tickSize": {"condition": {"test": "abs(log(datum.value)/LN10 - round(log(datum.value)/LN10)) < 0.01", "value": -26}, "value": -13},
            "labels": false,
            "title": null
          }
        },
        "text": {"field": "text"}
      }
    }
  ],
  "resolve": {"axis": {"x": "independent", "y": "independent"}}
}
